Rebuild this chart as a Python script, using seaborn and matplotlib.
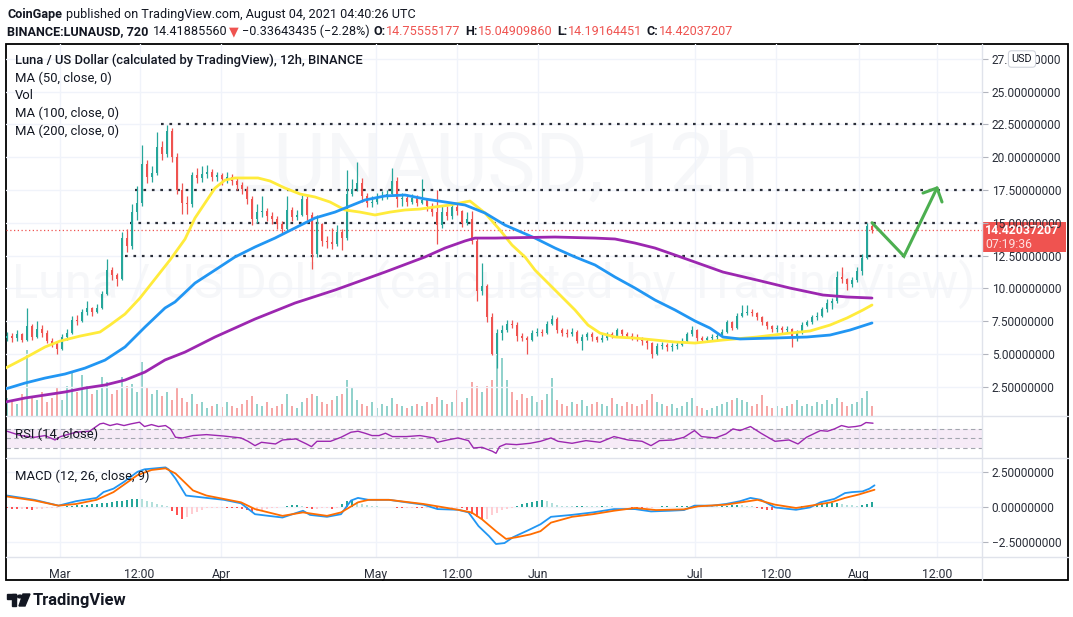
import numpy as np
import matplotlib.pyplot as plt
import matplotlib.patches as mpatches
from matplotlib.lines import Line2D
from matplotlib.text import Annotation
import seaborn as sns

sns.set_theme(style="white")
plt.rcParams['font.family'] = ['Roboto', 'DejaVu Sans']

W, H = 1073, 617

# --- 12h LUNA/USD, one candle per step (open = previous close) ---
first_open = 6.2
close = [6.4, 6.2, 6.5, 6.1, 7.1, 6.3, 6.9, 6.6, 6.0, 5.8,
         5.4, 6.3, 6.6, 7.6, 7.5, 8.2, 8.5, 8.2, 8.5, 9.6,
         11.4, 11.0, 10.7, 13.8, 13.2, 15.8, 16.5, 19.5, 18.5, 18.8,
         20.8, 20.2, 22.0, 20.0, 17.5, 16.5, 16.4, 18.6, 18.4, 18.7,
         18.9, 18.5, 18.6, 18.3, 18.5, 18.2, 17.9, 17.6, 16.8, 15.3,
         15.8, 15.9, 15.5, 15.3, 14.9, 14.5, 16.0, 15.4, 15.6, 16.8,
         15.6, 12.6, 14.9, 13.6, 13.5, 13.4, 14.3, 13.8, 17.2, 17.6,
         18.0, 17.0, 16.5, 16.6, 16.9, 17.0, 17.2, 18.2, 16.8, 16.9,
         16.6, 16.9, 16.5, 16.7, 16.3, 15.8, 14.8, 15.8, 15.5, 16.2,
         15.9, 15.0, 15.3, 13.6, 9.8, 10.2, 7.8, 5.0, 6.6, 6.8,
         7.3, 7.2, 6.4, 6.2, 6.1, 6.6, 6.7, 6.6, 7.3, 7.7,
         6.8, 6.6, 6.5, 6.7, 6.0, 6.3, 6.5, 6.3, 6.1, 6.2,
         6.5, 6.4, 6.8, 6.5, 6.4, 6.3, 6.2, 6.0, 5.8, 5.0,
         5.6, 5.7, 5.5, 5.6, 5.7, 6.0, 6.5, 6.8, 6.2, 6.1,
         6.2, 6.3, 6.4, 6.7, 7.4, 7.0, 7.9, 8.1, 8.2, 8.1,
         7.8, 7.4, 7.1, 6.9, 7.0, 6.8, 6.9, 6.4, 6.6, 7.2,
         7.4, 7.8, 7.9, 8.4, 8.9, 9.0, 10.9, 10.7, 10.3, 10.6,
         11.3, 12.3, 14.76, 14.42]
high = [6.7, 6.6, 6.8, 6.6, 8.5, 7.3, 7.5, 7.2, 6.8, 6.2,
        6.0, 6.5, 6.9, 7.9, 8.0, 8.4, 9.0, 8.6, 8.8, 9.8,
        12.2, 11.6, 11.2, 14.3, 14.5, 16.4, 17.8, 20.9, 19.8, 19.3,
        21.9, 21.2, 22.45, 22.2, 20.3, 18.0, 17.0, 18.9, 19.2, 19.3,
        19.4, 19.1, 18.9, 18.8, 18.9, 18.7, 18.4, 18.1, 17.8, 17.0,
        16.4, 17.0, 16.1, 15.8, 15.5, 15.1, 17.0, 16.2, 16.0, 17.1,
        17.0, 15.8, 15.6, 15.0, 14.0, 14.6, 14.8, 14.5, 19.0, 18.3,
        19.6, 18.4, 17.3, 17.0, 17.3, 17.4, 17.5, 19.2, 18.5, 17.3,
        17.2, 17.2, 17.1, 18.3, 16.9, 16.5, 17.5, 16.3, 16.3, 16.6,
        16.5, 16.0, 15.8, 15.9, 13.8, 11.9, 10.3, 8.1, 6.9, 7.2,
        7.6, 7.6, 7.4, 6.6, 6.4, 6.8, 7.0, 6.9, 7.5, 7.95,
        7.8, 7.0, 6.9, 7.0, 6.8, 6.5, 6.7, 6.7, 6.4, 6.5,
        6.7, 6.7, 7.0, 6.9, 6.7, 6.6, 6.5, 6.3, 6.2, 5.9,
        5.8, 5.9, 5.8, 5.8, 5.9, 6.2, 6.7, 7.1, 6.9, 6.4,
        6.4, 6.5, 6.6, 6.9, 7.6, 7.5, 8.1, 8.7, 8.7, 8.4,
        8.2, 7.9, 7.5, 7.2, 7.2, 7.1, 7.1, 7.0, 6.8, 7.4,
        7.6, 8.0, 8.2, 8.6, 9.2, 9.3, 11.3, 11.6, 10.8, 10.9,
        11.6, 12.6, 15.0, 15.05]
low = [6.0, 5.9, 6.0, 5.9, 6.0, 6.1, 6.2, 6.3, 5.8, 5.5,
       5.0, 5.3, 6.1, 6.5, 7.2, 7.4, 8.0, 7.9, 8.1, 8.4,
       9.5, 10.6, 10.2, 10.6, 12.8, 13.0, 15.2, 16.3, 18.0, 18.1,
       18.6, 19.8, 20.0, 19.6, 17.2, 15.7, 15.7, 16.2, 18.0, 18.1,
       18.4, 18.2, 18.2, 17.9, 18.0, 17.9, 17.5, 17.2, 16.4, 14.8,
       15.0, 15.4, 15.1, 14.9, 14.5, 14.2, 14.4, 15.1, 15.2, 15.5,
       15.2, 11.5, 12.4, 13.2, 13.1, 13.0, 13.2, 12.9, 13.7, 17.0,
       17.4, 16.6, 16.2, 16.2, 16.4, 16.7, 16.8, 17.0, 16.2, 16.3,
       16.3, 16.4, 16.3, 16.4, 15.9, 15.5, 13.4, 14.6, 15.2, 15.3,
       15.6, 14.7, 14.8, 13.4, 9.0, 9.5, 7.4, 4.9, 3.9, 6.1,
       6.7, 7.0, 6.0, 6.0, 5.0, 6.0, 6.4, 6.4, 6.5, 7.2,
       6.6, 6.4, 6.3, 6.4, 5.8, 5.3, 6.1, 6.0, 5.9, 5.9,
       6.1, 6.2, 6.3, 6.3, 6.2, 6.1, 6.0, 5.7, 5.4, 4.7,
       4.9, 5.4, 5.2, 5.2, 5.4, 5.6, 5.9, 6.4, 6.0, 5.9,
       6.0, 6.0, 6.1, 6.3, 6.6, 6.8, 6.9, 7.8, 8.0, 7.9,
       7.6, 7.2, 6.9, 6.7, 6.7, 6.6, 6.6, 5.5, 6.0, 6.5,
       7.1, 7.3, 7.6, 7.8, 8.2, 8.4, 8.9, 10.4, 9.9, 10.1,
       10.5, 11.0, 12.2, 14.19]
volume = [1.8, 1.4, 1.2, 2.2, 6.6, 2.0, 1.6, 2.4, 1.4, 1.8,
          2.8, 1.6, 3.0, 4.3, 2.4, 4.1, 3.0, 2.2, 2.6, 3.9,
          3.4, 2.2, 2.6, 3.9, 3.0, 3.2, 2.4, 5.4, 2.8, 2.2,
          2.6, 2.0, 2.4, 1.6, 2.9, 1.8, 1.4, 2.2, 1.2, 1.4,
          0.8, 1.0, 1.2, 0.9, 1.4, 1.0, 0.8, 1.2, 1.6, 2.0,
          1.2, 1.0, 1.4, 0.8, 1.0, 1.2, 2.2, 1.0, 0.8, 1.4,
          1.8, 2.2, 2.0, 1.4, 1.2, 1.6, 2.0, 2.2, 3.6, 2.8,
          1.6, 1.2, 1.0, 1.4, 0.8, 1.2, 1.0, 1.8, 1.2, 1.0,
          0.8, 1.0, 1.2, 1.0, 1.4, 1.2, 1.9, 1.6, 1.2, 1.4,
          2.6, 1.4, 1.8, 3.4, 3.0, 2.4, 3.0, 3.6, 6.3, 5.8,
          3.6, 2.4, 1.6, 2.2, 1.8, 2.0, 1.4, 1.6, 2.2, 3.8,
          1.6, 1.2, 1.0, 1.4, 1.2, 1.6, 1.0, 1.2, 1.4, 1.2,
          1.0, 1.8, 1.2, 1.0, 1.4, 1.2, 1.0, 1.2, 1.6, 2.2,
          1.4, 1.2, 1.0, 1.2, 0.8, 1.0, 1.4, 1.8, 1.0, 0.8,
          0.6, 0.8, 1.0, 1.2, 1.4, 1.6, 1.8, 1.6, 1.4, 1.0,
          1.2, 2.1, 1.0, 0.8, 1.0, 0.8, 1.0, 1.2, 1.6, 1.0,
          1.2, 1.0, 1.4, 1.2, 1.6, 1.2, 1.8, 1.4, 1.0, 1.2,
          1.4, 1.8, 2.5, 1.0]
macd_hist = [-0.10, -0.12, -0.15, -0.14, -0.16, -0.18, -0.15, -0.12, -0.10, -0.08,
             -0.05, -0.02, 0.05, 0.10, 0.12, 0.15, 0.18, 0.20, 0.25, 0.30,
             0.32, 0.35, 0.40, 0.45, 0.50, 0.55, 0.60, 0.55, 0.45, 0.35,
             0.25, 0.15, 0.05, -0.30, -0.60, -0.90, -0.70, -0.50, -0.35, -0.20,
             -0.10, -0.08, -0.06, -0.05, -0.06, -0.08, -0.10, -0.15, -0.25, -0.35,
             -0.30, -0.20, -0.12, -0.08, -0.05, 0.03, 0.08, 0.12, 0.15, 0.10,
             -0.10, -0.15, -0.12, -0.10, -0.08, -0.12, -0.05, 0.25, 0.45, 0.50,
             0.35, 0.25, 0.15, 0.10, 0.05, 0.03, 0.01, -0.03, -0.05, -0.08,
             -0.06, -0.05, -0.08, -0.10, -0.08, -0.06, -0.12, -0.10, -0.08, -0.06,
             -0.05, -0.08, -0.25, -0.50, -0.75, -0.90, -0.85, -0.60, -0.40, -0.25,
             -0.12, -0.05, 0.10, 0.20, 0.28, 0.35, 0.45, 0.50, 0.42, 0.30,
             0.12, 0.10, 0.08, 0.06, 0.08, 0.10, 0.08, 0.06, 0.05, 0.06,
             0.05, 0.04, 0.03, 0.02, -0.03, -0.08, -0.10, -0.12, -0.08, -0.04,
             0.03, 0.04, 0.05, 0.03, 0.04, 0.06, 0.08, 0.10, 0.12, 0.10,
             0.08, 0.06, 0.05, 0.08, 0.10, 0.12, 0.15, 0.12, 0.10, 0.06,
             -0.05, -0.12, -0.18, -0.20, -0.15, -0.10, -0.05, -0.03, 0.02, 0.05,
             0.10, 0.15, 0.20, 0.25, 0.28, 0.30, 0.32, 0.25, 0.18, 0.12,
             0.10, 0.15, 0.25, 0.35]

# moving averages (candle index, price)
ma50_x = [-0.4, 3.6, 7.6, 10.6, 14.6, 18.6, 20.6, 23.6, 26.6, 29.6, 32.6, 35.6, 37.6, 39.6,
          41.6, 43.6, 45.6, 47.6, 50.2, 52.6, 55.6, 58.6, 61.6, 64.6, 67.6, 70.6, 73.6,
          76.6, 79.6, 82.6, 85.6, 88.6, 91.6, 92.6, 95.6, 98.6, 101, 103.6, 105.6, 109.6,
          113.6, 116.2, 118.6, 121.6, 125.6, 129.6, 133.6, 137.6, 143.2, 150, 156.6,
          160.6, 164.6, 168, 171.2, 173]
ma50_y = [3.90, 4.69, 5.53, 5.98, 6.36, 6.67, 7.20, 8.04, 9.26, 10.71, 12.16, 13.75, 15.36, 16.50,
          17.64, 18.25, 18.41, 18.41, 18.41, 18.18, 17.64, 17.19, 16.96, 16.58, 15.97, 15.81, 15.59,
          15.81, 15.97, 16.04, 16.20, 16.35, 16.58, 16.65, 15.74, 14.44, 13.30, 12.39, 11.39, 9.87,
          8.35, 7.20, 6.59, 6.29, 6.21, 6.06, 5.91, 5.83, 6.06, 6.29, 6.59,
          6.75, 7.20, 7.74, 8.35, 8.73]
ma100_x = [-0.4, 3.6, 7.6, 11.6, 15.6, 19.6, 23.6, 27.6, 31.6, 33.6, 37.6, 41.6, 45.6, 49.6,
           53.6, 57.6, 61.6, 65.6, 71.6, 75.6, 79.6, 83.6, 87.6, 91.6, 95.6, 99.6, 105.6,
           109.6, 113.6, 117.6, 121.6, 125.6, 129.6, 133.6, 137.6, 140.6, 143.2, 146.6,
           153.2, 160, 164.6, 168.6, 173]
ma100_y = [2.32, 2.78, 3.16, 3.47, 3.92, 4.53, 5.53, 7.05, 8.50, 8.96, 10.40, 11.39, 12.39, 13.15,
           13.83, 14.60, 15.36, 15.81, 16.73, 17.04, 17.11, 16.81, 16.58, 16.35, 15.74, 14.82, 13.83,
           13.07, 12.39, 11.78, 10.86, 10.02, 9.11, 8.35, 7.51, 6.97, 6.29, 6.14,
           6.21, 6.29, 6.44, 6.82, 7.36]
ma200_x = [-0.4, 3.6, 7.6, 11.6, 15.6, 19.6, 23.6, 27.6, 31.6, 35.6, 41.6, 49.6, 57.6, 65.6,
           75.6, 83.6, 87.6, 91.6, 93.6, 97.6, 109.6, 117.6, 121.6, 125.6, 129.6, 133.6,
           137.6, 143.2, 150, 156.6, 163.2, 168, 173]
ma200_y = [1.33, 1.64, 1.87, 2.10, 2.40, 2.63, 3.01, 3.62, 4.54, 5.14, 6.29, 7.66, 8.88, 9.87,
           11.24, 12.39, 13.07, 13.61, 13.83, 13.83, 13.91, 13.83, 13.76, 13.45, 13.07, 12.54,
           12.00, 11.24, 10.63, 10.02, 9.49, 9.34, 9.26]

# RSI (14, close)
rsi_x = [0, 2.7, 5.5, 7.6, 9.6, 10.7, 13.8, 16.5, 18.6, 19.3, 20.6, 22, 23.4, 24.8, 26.5, 27.5,
         28.9, 30.3, 31.7, 32.7, 33.7, 35.1, 37.2, 39.9, 43.4, 46.8, 48.2, 49.6, 50.9, 53.7,
         55.1, 57.8, 59.9, 60.9, 62, 64.7, 66.8, 68.8, 70.2, 71.6, 73, 74.4, 75.7, 77.1, 79.9,
         82.6, 85.4, 86.1, 88.1, 90.2, 92.3, 93.3, 95, 97.1, 97.8, 98.5, 99.8, 101.9, 104.6,
         106.7, 108.8, 110.2, 113, 115.8, 118.6, 121.4, 124.2, 127, 128.8, 130.5, 133.3,
         135.4, 137.5, 138.9, 141.7, 143.8, 145.2, 146.6, 148.7, 150.8, 152.2, 153.6, 156.4,
         158.2, 159.9, 161.3, 162.7, 164.1, 165.5, 166.9, 168.3, 169.7, 170.8, 171.8, 173.2]
rsi_y = [65.1, 56, 52.4, 56, 46.8, 53.9, 63, 65.1, 80.5, 81.9, 77, 80.5, 77, 80.5, 84, 74.9,
         79, 74.9, 77, 70, 52.4, 51, 56, 58, 55, 51, 44, 34.9, 41.9, 38.4,
         46.8, 48.9, 38.4, 32.8, 44, 44, 52.4, 63, 65.1, 60.9, 56, 56, 60.9, 53.9, 53.9,
         56, 51, 41.9, 46.8, 51, 45.4, 30, 31.4, 23, 18.8, 32.8, 38.4, 37, 39.8,
         44, 51, 44, 39.8, 45.4, 41.9, 53.9, 46.8, 44, 34.9, 45.4, 46.8,
         52.4, 66.5, 53.9, 51, 59.5, 70, 66.5, 74.9, 60.9, 52.4, 44, 46.8,
         38.4, 52.4, 59.5, 66.5, 65.1, 70, 77, 73.5, 74.9, 77, 83.3, 81.9]

# MACD (12, 26, close, 9)
macd_x = [0, 5.5, 10.3, 13.8, 17.9, 19.3, 21.3, 23.4, 26.1, 27.5, 31.7, 32.3, 33.7, 35.8, 39.9,
          43.4, 46.8, 49.6, 52.3, 55.1, 57.1, 59.2, 60.6, 64, 66.8, 68.8, 70.2, 72.3, 74.4,
          76.4, 79.9, 83.3, 86.1, 90.2, 92.3, 94.3, 96.4, 97.8, 99.5, 101.2, 104.6, 106.7,
          108.8, 113, 117.2, 121.4, 125.6, 128.8, 132.6, 135.4, 137.5, 141, 143.8, 146.6,
          148.7, 150.8, 153.6, 157.8, 160.6, 162.7, 165.5, 167.6, 169, 171.1, 172.5, 173.5]
macd_y = [0.83, 0.52, 0.10, 0.42, 0.66, 1.08, 1.33, 1.82, 2.55, 2.73, 2.87, 2.73, 2.06, 0.83, 0.66,
          0.52, 0.27, -0.52, -0.64, -0.76, -0.52, -0.27, -0.57, -0.71, -0.52, 0.47, 0.66, 0.52, 0.52,
          0.52, 0.34, 0.17, -0.15, -0.20, -0.39, -1.38, -2.11, -2.68, -2.61, -2.19, -1.62, -1.25,
          -0.71, -0.57, -0.39, -0.15, -0.15, -0.32, -0.27, -0.22, 0.10, 0.10, 0.22, 0.42,
          0.66, 0.52, -0.03, -0.20, -0.03, 0.34, 0.59, 1.01, 1.08, 1.13, 1.33, 1.57]
signal_x = [0, 5.5, 10.3, 13.8, 17.9, 21.3, 26.1, 28.9, 31.7, 33.7, 37.2, 39.9, 46.8, 49.6, 55.1,
            59.2, 64, 66.8, 70.2, 72.3, 76.4, 83.3, 90.2, 92.9, 95, 97.8, 99.8, 101.9, 104.6,
            106.7, 108.8, 113, 117.2, 121.4, 125.6, 129.8, 135.4, 138.2, 143.8, 150.1, 153.6,
            157.8, 162, 164.8, 167.6, 170.4, 173.5]
signal_y = [0.76, 0.47, 0.10, 0.22, 0.52, 1.08, 2.31, 2.68, 2.80, 2.43, 1.20, 0.83, 0.34, -0.15, -0.64,
            -0.39, -0.64, -0.39, 0.34, 0.52, 0.52, 0.22, -0.20, -0.39, -0.89, -1.75, -2.31, -2.19, -1.99,
            -1.75, -1.13, -0.71, -0.52, -0.27, -0.07, -0.22, -0.17, 0.05, 0.17, 0.52, 0.17,
            -0.07, 0.17, 0.34, 0.66, 0.91, 1.25]

# drawn support / resistance levels (price, first candle)
level_prices = [22.5, 17.5, 15.0, 12.5]
level_start = [30.8, 25.6, 24.6, 23.6]
# projected path drawn by the author (candle index, price)
path_x = [173, 179.4, 186]
path_y = [15.0, 12.45, 17.65]
arrow_head_x = [183.2, 186, 187.0]
arrow_head_y = [17.26, 17.65, 16.58]

tick_pos = [10.6, 26.5, 42.8, 73.8, 90, 106.2, 137.6, 153.8, 170.4, 186]
tick_lab = ["Mar", "12:00", "Apr", "May", "12:00", "Jun", "Jul", "12:00", "Aug", "12:00"]
price_ticks = [2.5, 5, 7.5, 10, 12.5, 15, 17.5, 20, 22.5, 25, 27.5]
macd_ticks = [-2.5, 0, 2.5]

UP, DOWN = "#26a69a", "#ef5350"
TXT = "#131722"
GRID = "#f0f3fa"


def fx(px):
    return px / W


def fy(py):
    return 1 - py / H


fig = plt.figure(figsize=(W / 100, H / 100), dpi=100)
fig.patch.set_facecolor("white")

L, R = 6, 982
ax = fig.add_axes([fx(L), fy(416), fx(R) - fx(L), fy(44) - fy(416)])
ax_rsi = fig.add_axes([fx(L), fy(458), fx(R) - fx(L), fy(416) - fy(458)], sharex=ax)
ax_macd = fig.add_axes([fx(L), fy(557), fx(R) - fx(L), fy(458) - fy(557)], sharex=ax)

x = np.arange(len(close))
c = np.array(close)
o = np.concatenate([[first_open], c[:-1]])
colors = [UP if cc >= oo else DOWN for oo, cc in zip(o, c)]

# volume on a hidden twin axis
ax_vol = ax.twinx()
ax_vol.bar(x, volume, width=0.45, color=colors, alpha=0.5, linewidth=0)
ax_vol.set_ylim(0, 37.2)
ax_vol.set_yticks([])
for s in ax_vol.spines.values():
    s.set_visible(False)
ax.set_zorder(ax_vol.get_zorder() + 1)
ax.patch.set_visible(False)

# watermark
ax.text(0.5, 0.665, "LUNAUSD, 12h", transform=ax.transAxes, ha="center", va="center",
        fontsize=58, color="#f6f7f9", zorder=0, clip_on=True)
ax.text(0.5, 0.355, "Luna / US Dollar (calculated by TradingView)", transform=ax.transAxes,
        ha="center", va="center", fontsize=35, color="#f6f7f9", zorder=0, clip_on=True)

# candles
ax.vlines(x, low, high, colors=colors, linewidth=0.9, zorder=3)
ax.bar(x, np.abs(c - o), bottom=np.minimum(o, c), width=0.5, color=colors, linewidth=0, zorder=3)

# moving averages
sns.lineplot(x=ma50_x, y=ma50_y, ax=ax, color="#ffeb3b", linewidth=2, zorder=4)
sns.lineplot(x=ma100_x, y=ma100_y, ax=ax, color="#2196f3", linewidth=2, zorder=4)
sns.lineplot(x=ma200_x, y=ma200_y, ax=ax, color="#9c27b0", linewidth=2, zorder=4)

# drawing tools
for lv, st in zip(level_prices, level_start):
    ax.hlines(lv, st, 195, colors="#2a2e39", linestyles=(0, (1.2, 2.6)), linewidth=1.6, zorder=2)
ax.axhline(close[-1], color=DOWN, linestyle=(0, (1, 2)), linewidth=0.9, zorder=2)
ax.plot(path_x, path_y, color="#4caf50", linewidth=2.2, solid_joinstyle="miter", zorder=5)
ax.plot(arrow_head_x, arrow_head_y, color="#4caf50", linewidth=2.2, zorder=5)

ax.set_xlim(-0.2, 195)
ax.set_ylim(0.27, 28.62)
ax.set_yticks(price_ticks)
ax.set_yticklabels([f"{v:.8f}" for v in price_ticks])
ax.set_xticks(tick_pos)
ax.grid(True, color=GRID, linewidth=1)
ax.set_xlabel("")
ax.set_ylabel("")

# RSI
ax_rsi.axhspan(30, 70, color="#9c27b0", alpha=0.09, linewidth=0)
for lv in [70, 50, 30]:
    ax_rsi.axhline(lv, color="#a3a6af", linestyle=(0, (4, 3)), linewidth=0.8)
sns.lineplot(x=rsi_x, y=rsi_y, ax=ax_rsi, color="#9c27b0", linewidth=1)
ax_rsi.set_ylim(9, 97)
ax_rsi.set_yticks([])
ax_rsi.grid(True, axis="x", color=GRID, linewidth=1)
ax_rsi.set_xlabel("")
ax_rsi.set_ylabel("")

# MACD
hcol = []
prev = 0
for hv in macd_hist:
    if hv >= 0:
        hcol.append(UP if hv >= prev else "#b2dfdb")
    else:
        hcol.append("#ff5252" if hv <= prev else "#ffcdd2")
    prev = hv
ax_macd.bar(x, macd_hist, width=0.45, color=hcol, linewidth=0)
sns.lineplot(x=macd_x, y=macd_y, ax=ax_macd, color="#2196f3", linewidth=1.3)
sns.lineplot(x=signal_x, y=signal_y, ax=ax_macd, color="#ff6d00", linewidth=1.3)
ax_macd.set_ylim(-3.62, 3.55)
ax_macd.set_yticks(macd_ticks)
ax_macd.set_yticklabels([f"{v:.8f}".replace("-", "\u2212") for v in macd_ticks])
ax_macd.grid(True, color=GRID, linewidth=1)
ax_macd.set_xticks(tick_pos)
ax_macd.set_xticklabels(tick_lab)
ax_macd.set_xlabel("")
ax_macd.set_ylabel("")

for a in [ax, ax_rsi, ax_macd]:
    for s in a.spines.values():
        s.set_visible(False)
    a.yaxis.tick_right()
    a.tick_params(axis="y", which="both", right=True, length=4, width=0.8, color="#b2b5be",
                  labelsize=8.6, labelcolor="#2a2e39", pad=3)
    a.tick_params(axis="x", bottom=False, labelbottom=False)
ax_rsi.tick_params(axis="y", right=False)
ax_macd.tick_params(axis="x", labelbottom=True, labelsize=8.8, labelcolor="#2a2e39", pad=2)

# panel separators and frame
for yy in [416, 458, 557]:
    fig.add_artist(Line2D([fx(L), fx(1068)], [fy(yy), fy(yy)], color="#e0e3eb", linewidth=1))
fig.add_artist(Line2D([fx(R), fx(R)], [fy(44), fy(580)], color="#e0e3eb", linewidth=1))
fig.add_artist(mpatches.Rectangle((fx(L), fy(580)), fx(1068) - fx(L), fy(44) - fy(580),
                                  fill=False, edgecolor="#000000", linewidth=1.3))

# price / countdown badge and currency box
fig.add_artist(mpatches.Rectangle((fx(R), fy(252)), fx(1066) - fx(R), fy(222) - fy(252),
                                  facecolor=DOWN, edgecolor="none"))
fig.text(fx(985), fy(230), "14.42037207", color="white", fontsize=8.8, fontweight="bold", va="center")
fig.text(fx(985), fy(244), "07:19:36", color="#fde0e0", fontsize=8.8, va="center")
fig.text(fx(1022), fy(59), "USD", color=TXT, fontsize=7.8, ha="center", va="center",
         bbox=dict(boxstyle="round,pad=0.3,rounding_size=0.3", facecolor="white", edgecolor="#d1d4dc", lw=0.8))

# pane legends
leg = ["MA (50, close, 0)", "Vol", "MA (100, close, 0)", "MA (200, close, 0)"]
fig.text(fx(15), fy(60), "Luna / US Dollar (calculated by TradingView), 12h, BINANCE",
         color=TXT, fontsize=9.4, fontweight="medium", va="center")
for k, s in enumerate(leg):
    fig.text(fx(15), fy(78 + 17.8 * k), s, color=TXT, fontsize=9.4, va="center")
fig.text(fx(15), fy(434), "RSI (14, close)", color=TXT, fontsize=9.4, va="center")
fig.text(fx(15), fy(476), "MACD (12, 26, close, 9)", color=TXT, fontsize=9.4, va="center")


# header
def chain(parts, px, py, size):
    prev = None
    for s, col, wt, gap in parts:
        if prev is None:
            prev = fig.text(fx(px), fy(py), s, color=col, fontweight=wt, fontsize=size, va="bottom")
        else:
            prev = fig.add_artist(Annotation(s, xy=(1, 0), xycoords=prev, xytext=(gap, 0),
                                             textcoords="offset points", va="bottom",
                                             color=col, fontweight=wt, fontsize=size))


chain([("CoinGape", TXT, "bold", 0),
       ("published on TradingView.com, August 04, 2021 04:40:26 UTC", TXT, "normal", 3)], 7, 21, 9.1)
chain([("BINANCE:LUNAUSD, 720", TXT, "bold", 0),
       ("14.41885560", TXT, "normal", 3.5),
       ("\u25bc", DOWN, "normal", 1),
       ("\u22120.33643435 (\u22122.28%)", TXT, "normal", 2),
       ("O:", TXT, "bold", 3), ("14.75555177", DOWN, "normal", 0.5),
       ("H:", TXT, "bold", 3), ("15.04909860", DOWN, "normal", 0.5),
       ("L:", TXT, "bold", 3), ("14.19164451", DOWN, "normal", 0.5),
       ("C:", TXT, "bold", 3), ("14.42037207", DOWN, "normal", 0.5)], 7, 38, 9.1)

# footer logo
fig.add_artist(mpatches.Rectangle((fx(7), fy(599)), fx(16) - fx(7), fy(594) - fy(599), color=TXT))
fig.add_artist(mpatches.Rectangle((fx(12), fy(606)), fx(16) - fx(12), fy(594) - fy(606), color=TXT))
fig.add_artist(mpatches.Circle((fx(20), fy(596.5)), 2.4 / W, color=TXT))
fig.add_artist(mpatches.Polygon([(fx(23), fy(594)), (fx(30), fy(594)), (fx(25), fy(606)), (fx(19), fy(606))],
                                closed=True, color=TXT))
fig.text(fx(33), fy(600), "TradingView", color=TXT, fontsize=11.9, fontweight="bold", va="center")

fig.savefig("out.png", dpi=100, facecolor="white")
